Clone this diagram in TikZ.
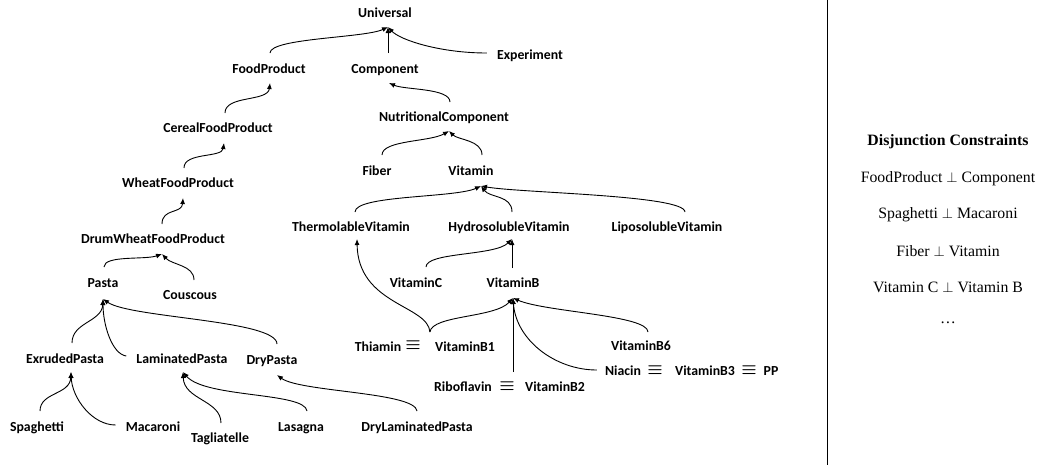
\documentclass[tikz,border=0pt]{standalone}
\usepackage{fontspec}
\setmainfont{Liberation Serif}
\newfontfamily\carl{Carlito}
\usetikzlibrary{arrows.meta,calc}
\begin{document}
\begin{tikzpicture}[x=1pt,y=-1pt,
  lbl/.style={font=\carl\bfseries\fontsize{13.8}{16}\selectfont,inner sep=0pt,text height=9pt,text depth=0pt},
  eqv/.style={font=\fontsize{19}{20}\selectfont\boldmath,inner sep=0pt},
  rt/.style={font=\fontsize{15.8}{18}\selectfont,inner sep=0pt},
  isa/.style={draw,line width=0.9pt,-{Latex[length=6pt,width=5pt]}},
  plain/.style={draw,line width=0.9pt}]
\useasboundingbox (0,0) rectangle (1041,467);
% nodes
\node[lbl] (U) at (385,13) {Universal};
\node[lbl] (E) at (530,55) {Experiment};
\node[lbl] (FP) at (269,69) {FoodProduct};
\node[lbl] (C) at (385,69) {Component};
\node[lbl] (NC) at (444,117) {NutritionalComponent};
\node[lbl] (CFP) at (218,128) {CerealFoodProduct};
\node[lbl] (Fi) at (377,171) {Fiber};
\node[lbl] (V) at (471,171) {Vitamin};
\node[lbl] (WFP) at (178,183) {WheatFoodProduct};
\node[lbl] (TV) at (351,227) {ThermolableVitamin};
\node[lbl] (HV) at (509,227) {HydrosolubleVitamin};
\node[lbl] (LV) at (667,227) {LiposolubleVitamin};
\node[lbl] (DW) at (153,239) {DrumWheatFoodProduct};
\node[lbl] (Pa) at (103,283) {Pasta};
\node[lbl] (Co) at (190,295) {Couscous};
\node[lbl] (VC) at (416,283) {VitaminC};
\node[lbl] (VB) at (513,283) {VitaminB};
\node[lbl] (EP) at (65,359) {ExrudedPasta};
\node[lbl] (LP) at (182,359) {LaminatedPasta};
\node[lbl] (DP) at (272,360) {DryPasta};
\node[lbl] (Sp) at (37,427) {Spaghetti};
\node[lbl] (Ma) at (153,427) {Macaroni};
\node[lbl] (Ta) at (220,438) {Tagliatelle};
\node[lbl] (La) at (301,427) {Lasagna};
\node[lbl] (DLP) at (417,427) {DryLaminatedPasta};
\node[lbl] (Th) at (378,347) {Thiamin};
\node[eqv] (q1) at (413,345) {$\equiv$};
\node[lbl] (B1) at (465,347) {VitaminB1};
\node[lbl] (B6) at (641,346) {VitaminB6};
\node[lbl] (Ni) at (623,371) {Niacin};
\node[eqv] (q3) at (655,370) {$\equiv$};
\node[lbl] (B3) at (705,371) {VitaminB3};
\node[eqv] (q4) at (749,370) {$\equiv$};
\node[lbl] (PP) at (771,371) {PP};
\node[lbl] (Ri) at (463,387) {Riboflavin};
\node[eqv] (q2) at (507,386) {$\equiv$};
\node[lbl] (B2) at (555,387) {VitaminB2};
% right panel
\draw[line width=0.9pt] (827,0) -- (827,465);
\node[rt,font=\bfseries\fontsize{15.8}{18}\selectfont] (DC) at (948,142) {Disjunction Constraints};
\node[rt] (d1) at (948,179) {FoodProduct $\perp$ Component};
\node[rt] (d2) at (948,215) {Spaghetti $\perp$ Macaroni};
\node[rt] (d3) at (948,251) {Fiber $\perp$ Vitamin};
\node[rt] (d4) at (948,287) {Vitamin C $\perp$ Vitamin B};
\node[rt] (d5) at (948,323) {\ldots};
% join points
\coordinate (tU) at (388,27);
\coordinate (tFP) at (270,83);
\coordinate (tC) at (389,83);
\coordinate (tNC) at (449,131);
\coordinate (tCFP) at (224,143);
\coordinate (tWFP) at (183,198);
\coordinate (tDW) at (162,254);
\coordinate (tV) at (481,186);
\coordinate (tTV) at (357,239);
\coordinate (tHV) at (512,239);
\coordinate (tVB) at (513,298);
\coordinate (tPa) at (103,299);
\coordinate (tEP) at (71,372);
\coordinate (tLP) at (183,372);
\coordinate (tDP) at (277,375);
\coordinate (cusp) at ($(B1.west)+(-5,-15)$);
% edges
\draw[isa] ($(FP)+(1,-16)$) .. controls (270,38) and (365,38) .. (tU);
\draw[isa] ($(C)+(3,-16)$) -- (tU);
\draw[isa] ($(E.west)+(-10,-2)$) .. controls (440,53) and (400,40) .. (tU);
\draw[isa] ($(CFP)+(7,-15)$) .. controls (225,95) and (268,102) .. (tFP);
\draw[isa] ($(NC)+(6,-15)$) .. controls (450,88) and (405,90) .. (tC);
\draw[isa] ($(Fi)+(5,-16)$) .. controls (382,140) and (430,142) .. (tNC);
\draw[isa] ($(V)+(11,-16)$) .. controls (482,140) and (458,140) .. (tNC);
\draw[isa] ($(WFP)+(6,-15)$) .. controls (184,152) and (222,158) .. (tCFP);
\draw[isa] ($(DW)+(9,-15)$) .. controls (162,208) and (182,214) .. (tWFP);
\draw[isa] ($(Pa)+(1,-16)$) .. controls (104,255) and (145,260) .. (tDW);
\draw[isa] ($(Co)+(4,-15)$) .. controls (194,265) and (172,265) .. (tDW);
\draw[isa] ($(TV)+(4,-15)$) .. controls (355,195) and (455,198) .. (tV);
\draw[isa] ($(HV)+(3,-15)$) .. controls (512,195) and (490,198) .. (tV);
\draw[isa] ($(LV)+(18,-15)$) .. controls (685,195) and (520,193) .. (tV);
\draw[isa] ($(VC)+(10,-16)$) .. controls (426,252) and (495,256) .. (tHV);
\draw[isa] ($(VB)+(-1,-15)$) -- (tHV);
\draw[isa] (cusp) .. controls (428,305) and (358,305) .. (tTV);
\draw[isa] (cusp) .. controls (432,315) and (495,318) .. (tVB);
\draw[isa] ($(q2)+(6,-14)$) -- (tVB);
\draw[isa] ($(Ni.west)+(-8,-1)$) .. controls (555,370) and (516,340) .. (tVB);
\draw[isa] ($(B6)+(7,-14)$) .. controls (648,315) and (545,312) .. (tVB);
\draw[isa] ($(EP)+(7,-16)$) .. controls (72,322) and (102,322) .. (tPa);
\draw[isa] ($(LP.west)+(-10,-3)$) .. controls (112,354) and (103,325) .. (tPa);
\draw[isa] ($(DP)+(5,-16)$) .. controls (277,320) and (130,318) .. (tPa);
\draw[isa] ($(Sp)+(3,-16)$) .. controls (40,392) and (70,395) .. (tEP);
\draw[isa] ($(Ma.west)+(-10,-2)$) .. controls (92,425) and (72,398) .. (tEP);
\draw[isa] ($(Ta)+(1,-15)$) .. controls (221,400) and (184,400) .. (tLP);
\draw[isa] ($(La)+(6,-16)$) .. controls (305,392) and (205,398) .. (tLP);
\draw[isa] ($(DLP)+(0,-16)$) .. controls (415,392) and (300,392) .. (tDP);
\end{tikzpicture}
\end{document}
